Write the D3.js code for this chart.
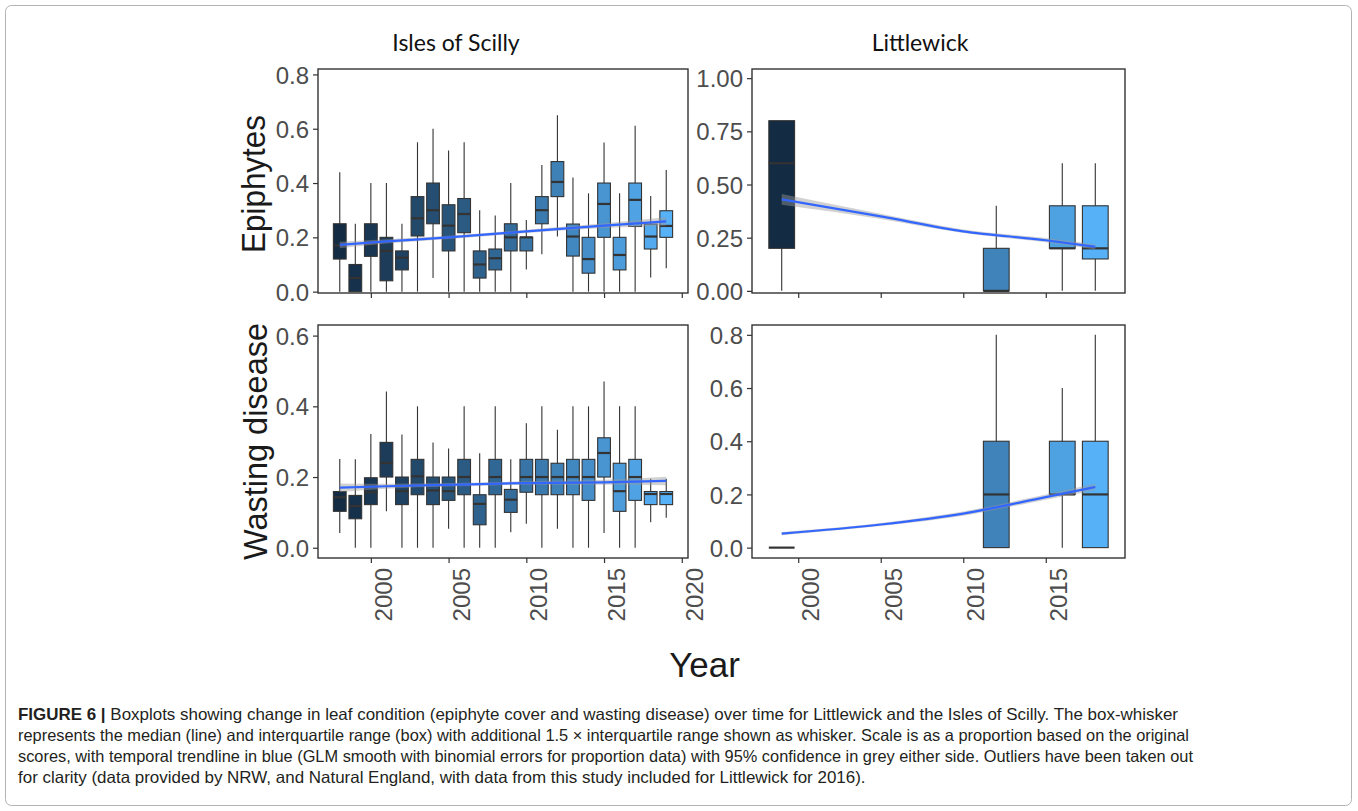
<!DOCTYPE html>
<html><head><meta charset="utf-8">
<script src="https://cdn.jsdelivr.net/npm/d3@7"></script>
<style>html,body{margin:0;padding:0;background:#fff;}svg{display:block;}</style>
</head><body>
<svg id="c" width="1358" height="811"></svg>
<script>
// ---------- DATA ----------
const panelTitles = ["Isles of Scilly", "Littlewick"];
const rowTitles = ["Epiphytes", "Wasting disease"];
const xAxisTitle = "Year";

const yearsScilly = [1998,1999,2000,2001,2002,2003,2004,2005,2006,2007,2008,2009,2010,2011,2012,2013,2014,2015,2016,2017,2018,2019];
const epiScillyLow  = [0,0,0,0,0,0,0.05,0,0,0,0,0,0.082,0.138,0.203,0,0,0,0,0,0.052,0.086];
const epiScillyQ1   = [0.12,0,0.13,0.04,0.08,0.205,0.25,0.15,0.217,0.05,0.08,0.15,0.15,0.25,0.35,0.131,0.068,0.2,0.08,0.24,0.157,0.2];
const epiScillyMed  = [0.17,0.05,0.175,0.15,0.125,0.27,0.30,0.243,0.286,0.10,0.123,0.20,0.20,0.30,0.404,0.203,0.12,0.323,0.135,0.338,0.203,0.242];
const epiScillyQ3   = [0.25,0.10,0.25,0.20,0.15,0.35,0.40,0.32,0.343,0.15,0.157,0.25,0.20,0.35,0.479,0.249,0.20,0.40,0.20,0.40,0.249,0.298];
const epiScillyHigh = [0.44,0.25,0.40,0.40,0.25,0.55,0.60,0.52,0.55,0.30,0.28,0.40,0.264,0.466,0.65,0.42,0.362,0.549,0.362,0.611,0.352,0.448];

const wasteScillyLow  = [0.042,0,0,0.103,0,0,0,0.054,0,0,0,0.044,0.068,0,0.054,0,0,0.042,0,0,0.072,0.085];
const wasteScillyQ1   = [0.103,0.082,0.122,0.20,0.122,0.15,0.122,0.134,0.15,0.065,0.15,0.10,0.157,0.15,0.15,0.15,0.134,0.20,0.103,0.134,0.122,0.122];
const wasteScillyMed  = [0.143,0.118,0.157,0.24,0.16,0.202,0.162,0.16,0.20,0.124,0.20,0.136,0.20,0.20,0.20,0.20,0.20,0.268,0.16,0.20,0.152,0.152];
const wasteScillyQ3   = [0.159,0.148,0.198,0.298,0.20,0.25,0.20,0.20,0.25,0.15,0.25,0.165,0.25,0.25,0.239,0.25,0.25,0.311,0.239,0.25,0.159,0.159];
const wasteScillyHigh = [0.251,0.25,0.322,0.442,0.32,0.40,0.298,0.281,0.40,0.267,0.40,0.25,0.352,0.40,0.334,0.40,0.40,0.47,0.40,0.40,0.195,0.195];

const yearsLittle = [1999,2012,2016,2018];
const epiLittleLow  = [0,0,0,0];
const epiLittleQ1   = [0.2,0,0.2,0.15];
const epiLittleMed  = [0.6,0,0.2,0.2];
const epiLittleQ3   = [0.8,0.2,0.4,0.4];
const epiLittleHigh = [0.8,0.4,0.6,0.6];

const wasteLittleLow  = [0,0,0,0];
const wasteLittleQ1   = [0,0,0.2,0];
const wasteLittleMed  = [0,0.2,0.2,0.2];
const wasteLittleQ3   = [0,0.4,0.4,0.4];
const wasteLittleHigh = [0,0.8,0.6,0.8];

// GLM trend lines (fit and half-width of 95% band)
const trendScillyYears = [1998,2001,2005,2010,2015,2019];
const trendEpiScilly    = [0.172,0.185,0.200,0.222,0.243,0.259];
const trendEpiScillySe  = [0.012,0.008,0.006,0.006,0.009,0.015];
const trendWasteScilly   = [0.170,0.174,0.178,0.183,0.185,0.189];
const trendWasteScillySe = [0.012,0.007,0.005,0.005,0.007,0.012];
const trendLittleYears = [1999,2005,2010,2015,2018];
const trendEpiLittle    = [0.430,0.350,0.280,0.238,0.207];
const trendEpiLittleSe  = [0.025,0.012,0.008,0.010,0.012];
const trendWasteLittle   = [0.053,0.087,0.128,0.190,0.228];
const trendWasteLittleSe = [0.006,0.006,0.008,0.010,0.012];

const xTicksScilly = [2000,2005,2010,2015,2020];
const xTicksLittle = [2000,2005,2010,2015];
const yTicksEpiScilly = [0,0.2,0.4,0.6,0.8];
const yTicksEpiLittle = [0,0.25,0.5,0.75,1.0];
const yTicksWasteScilly = [0,0.2,0.4,0.6];
const yTicksWasteLittle = [0,0.2,0.4,0.6,0.8];

const captionLabel = "FIGURE 6 | ";
const captionLines = [
  "Boxplots showing change in leaf condition (epiphyte cover and wasting disease) over time for Littlewick and the Isles of Scilly. The box-whisker",
  "represents the median (line) and interquartile range (box) with additional 1.5 \u00d7 interquartile range shown as whisker. Scale is as a proportion based on the original",
  "scores, with temporal trendline in blue (GLM smooth with binomial errors for proportion data) with 95% confidence in grey either side. Outliers have been taken out",
  "for clarity (data provided by NRW, and Natural England, with data from this study included for Littlewick for 2016)."
];

// ---------- DRAW ----------
const svg = d3.select("#c");
const FONT = "'Liberation Sans', Arial, Helvetica, sans-serif";
const DARK = "#333333";

svg.append("rect").attr("x",5.5).attr("y",5.5).attr("width",1346).attr("height",800)
  .attr("rx",6).attr("fill","none").attr("stroke","#b3b3b3").attr("stroke-width",1);

const colX = [{x0:318,x1:688,dom:[1996.6,2020.4],hw:0.41,ticks:xTicksScilly,cdom:[1998,2019]},
              {x0:752,x1:1125,dom:[1997.2,2019.8],hw:0.78,ticks:xTicksLittle,cdom:[1999,2018]}];
const rowY = [{y0:69,y1:293},{y0:325,y1:558}];

const panels = [
  {r:0,c:0,ydom:[-0.005,0.82],yt:yTicksEpiScilly,fmt:d3.format(".1f"),years:yearsScilly,
   lo:epiScillyLow,q1:epiScillyQ1,md:epiScillyMed,q3:epiScillyQ3,hi:epiScillyHigh,
   ty:trendScillyYears,tf:trendEpiScilly,ts:trendEpiScillySe},
  {r:0,c:1,ydom:[-0.01,1.043],yt:yTicksEpiLittle,fmt:d3.format(".2f"),years:yearsLittle,
   lo:epiLittleLow,q1:epiLittleQ1,md:epiLittleMed,q3:epiLittleQ3,hi:epiLittleHigh,
   ty:trendLittleYears,tf:trendEpiLittle,ts:trendEpiLittleSe},
  {r:1,c:0,ydom:[-0.029,0.63],yt:yTicksWasteScilly,fmt:d3.format(".1f"),years:yearsScilly,
   lo:wasteScillyLow,q1:wasteScillyQ1,md:wasteScillyMed,q3:wasteScillyQ3,hi:wasteScillyHigh,
   ty:trendScillyYears,tf:trendWasteScilly,ts:trendWasteScillySe},
  {r:1,c:1,ydom:[-0.039,0.837],yt:yTicksWasteLittle,fmt:d3.format(".1f"),years:yearsLittle,
   lo:wasteLittleLow,q1:wasteLittleQ1,md:wasteLittleMed,q3:wasteLittleQ3,hi:wasteLittleHigh,
   ty:trendLittleYears,tf:trendWasteLittle,ts:trendWasteLittleSe}
];

panels.forEach(p => {
  const cx = colX[p.c], ry = rowY[p.r];
  const x = d3.scaleLinear().domain(cx.dom).range([cx.x0,cx.x1]);
  const y = d3.scaleLinear().domain(p.ydom).range([ry.y1,ry.y0]);
  const col = d3.scaleLinear().domain(cx.cdom).range(["#132B43","#56B1F7"]).interpolate(d3.interpolateLab);
  const g = svg.append("g");

  const ya = g.append("g").attr("transform",`translate(${cx.x0},0)`)
    .call(d3.axisLeft(y).tickValues(p.yt).tickFormat(p.fmt).tickSize(5).tickPadding(4));
  ya.select(".domain").remove();
  ya.selectAll("line").attr("stroke",DARK).attr("stroke-width",1.2);
  ya.selectAll("text").attr("font-family",FONT).attr("font-size",24).attr("fill","#4d4d4d").attr("dy","0.36em");

  const xa = g.append("g").attr("transform",`translate(0,${ry.y1})`)
    .call(d3.axisBottom(x).tickValues(cx.ticks).tickFormat(d3.format("d")).tickSize(5));
  xa.select(".domain").remove();
  xa.selectAll("line").attr("stroke",DARK).attr("stroke-width",1.2);
  if (p.r === 1) {
    xa.selectAll("text").attr("font-family",FONT).attr("font-size",24).attr("fill","#4d4d4d")
      .attr("text-anchor","end").attr("dy",0)
      .attr("transform","translate(20.5,10) rotate(-90)").attr("x",0).attr("y",0);
  } else {
    xa.selectAll("text").remove();
  }

  const data = p.years.map((yr,i)=>({yr,lo:p.lo[i],q1:p.q1[i],md:p.md[i],q3:p.q3[i],hi:p.hi[i]}));
  const bx = g.append("g");
  data.forEach(d => {
    const xc = x(d.yr), xl = x(d.yr-cx.hw), xr = x(d.yr+cx.hw);
    bx.append("line").attr("x1",xc).attr("x2",xc).attr("y1",y(d.lo)).attr("y2",y(d.hi))
      .attr("stroke",DARK).attr("stroke-width",1.1);
    bx.append("rect").attr("x",xl).attr("width",xr-xl).attr("y",y(d.q3)).attr("height",Math.max(0,y(d.q1)-y(d.q3)))
      .attr("fill",col(d.yr)).attr("stroke",DARK).attr("stroke-width",1.1);
    bx.append("line").attr("x1",xl).attr("x2",xr).attr("y1",y(d.md)).attr("y2",y(d.md))
      .attr("stroke",DARK).attr("stroke-width",2.2);
  });

  const td = p.ty.map((yr,i)=>({yr,f:p.tf[i],s:p.ts[i]}));
  g.append("path").datum(td)
    .attr("d",d3.area().x(d=>x(d.yr)).y0(d=>y(d.f-d.s)).y1(d=>y(d.f+d.s)).curve(d3.curveMonotoneX))
    .attr("fill","#999999").attr("opacity",0.45);
  g.append("path").datum(td)
    .attr("d",d3.line().x(d=>x(d.yr)).y(d=>y(d.f)).curve(d3.curveMonotoneX))
    .attr("fill","none").attr("stroke","#3366FF").attr("stroke-width",2.2);

  g.append("rect").attr("x",cx.x0).attr("y",ry.y0).attr("width",cx.x1-cx.x0).attr("height",ry.y1-ry.y0)
    .attr("fill","none").attr("stroke",DARK).attr("stroke-width",1.4);
});

const TFONT = "Lato, 'Open Sans', sans-serif";
svg.append("text").attr("x",456).attr("y",51).attr("text-anchor","middle")
  .attr("font-family",TFONT).attr("font-size",23).attr("fill","#111").text(panelTitles[0]);
svg.append("text").attr("x",920).attr("y",51).attr("text-anchor","middle")
  .attr("font-family",TFONT).attr("font-size",23).attr("fill","#111").text(panelTitles[1]);

svg.append("text").attr("transform","translate(265,184) rotate(-90)").attr("text-anchor","middle")
  .attr("font-family",FONT).attr("font-size",34).attr("fill","#1a1a1a")
  .attr("textLength",138).attr("lengthAdjust","spacingAndGlyphs").text(rowTitles[0]);
svg.append("text").attr("transform","translate(267,441.5) rotate(-90)").attr("text-anchor","middle")
  .attr("font-family",FONT).attr("font-size",34).attr("fill","#1a1a1a")
  .attr("textLength",237).attr("lengthAdjust","spacingAndGlyphs").text(rowTitles[1]);

svg.append("text").attr("x",704.6).attr("y",677).attr("text-anchor","middle")
  .attr("font-family",FONT).attr("font-size",35).attr("fill","#1a1a1a").text(xAxisTitle);

// caption: lines 1-3 fitted to measured widths, line 4 at same density as line 1
const CFONT = "'Liberation Sans', Arial, sans-serif";
const capEnds = [1178,1189,1193,null];
const capY = [720,741,762,783];
let k = 1;
captionLines.forEach((t,i)=>{
  const tx = svg.append("text").attr("x",18).attr("y",capY[i])
    .attr("font-family",CFONT).attr("font-size",16.5).attr("fill","#231f20");
  if (i===0) tx.append("tspan").attr("font-weight","bold").text(captionLabel);
  tx.append("tspan").text(t);
  const nat = tx.node().getComputedTextLength();
  let target;
  if (capEnds[i] !== null) { target = capEnds[i]-18; if (i===0) k = target/nat; }
  else target = nat*k;
  tx.attr("textLength",target).attr("lengthAdjust","spacingAndGlyphs");
});
</script>
</body></html>
